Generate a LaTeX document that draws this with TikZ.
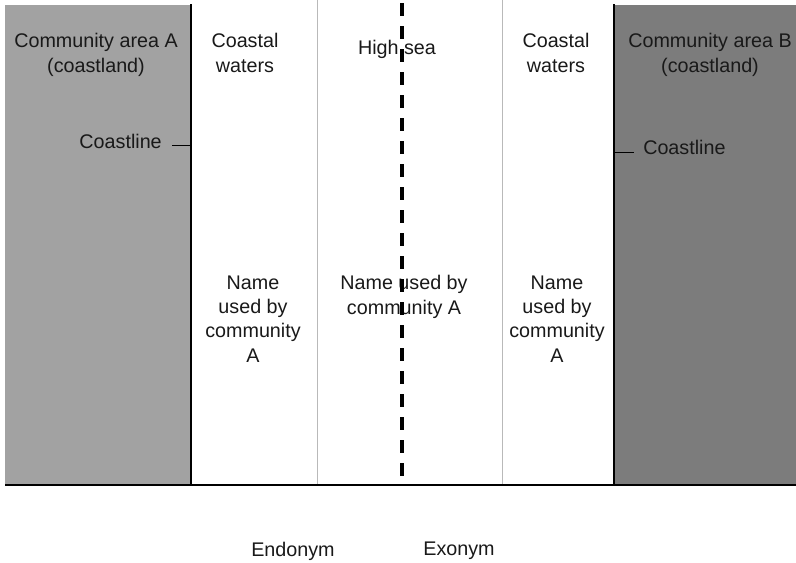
\documentclass[tikz,border=0pt]{standalone}
\usepackage{fontspec}
\setmainfont{Liberation Sans}
\definecolor{landA}{RGB}{162,162,162}
\definecolor{landB}{RGB}{124,124,124}
\definecolor{divider}{RGB}{185,185,185}
\definecolor{baseline}{RGB}{60,60,60}
\definecolor{ink}{RGB}{25,25,25}
\tikzset{
  lbl/.style={align=center, inner sep=0pt, text=ink,
    font=\fontsize{14.8}{18.2}\selectfont},
  coast/.style={line width=1.5pt, black},
  zone/.style={line width=0.75pt, divider},
  seaborder/.style={line width=3pt, black, dash pattern=on 9.75pt off 7.5pt},
  tick/.style={line width=0.6pt, black}
}
\begin{document}
\begin{tikzpicture}[x=0.75pt,y=-0.75pt]
\useasboundingbox (0,0) rectangle (796,562);

% land areas on both sides
\fill[landA] (5,5) rectangle (191,485);
\fill[landB] (614,5) rectangle (796,485);

% coastlines and zone limits
\draw[coast] (191,4) -- (191,485);
\draw[coast] (614,4) -- (614,485);
\draw[zone] (317,0) -- (317,485);
\draw[zone] (502,0) -- (502,485);
\draw[line width=1.5pt, baseline] (5,485) -- (796,485);

% zone headings
\node[lbl] (landAname) at (96,55) {Community area A\\(coastland)};
\node[lbl] (coastA) at (245,53) {Coastal\\waters};
\node[lbl] (highsea) at (397,49) {High sea};
\node[lbl] (coastB) at (556,53) {Coastal\\waters};
\node[lbl] (landBname) at (710,55) {Community area B\\(coastland)};

% coastline labels with their ticks
\node[lbl, anchor=east] (clA) at (162,141) {Coastline};
\coordinate (clAend) at (191,145);
\draw[tick] (clAend) -- ++(-19,0);
\node[lbl, anchor=west] (clB) at (643,147) {Coastline};
\coordinate (clBend) at (614,152);
\draw[tick] (clBend) -- ++(20,0);

% names used in each zone
\node[lbl] (nameA) at (253,319) {Name\\used by\\community\\A};
\node[lbl] (nameSea) at (404,297) {Name used by\\community A};
\node[lbl] (nameB) at (557,319) {Name\\used by\\community\\A};

% legend
\node[lbl] (endo) at (293,551) {Endonym};
\node[lbl] (exo) at (459,551) {Exonym};

% limit between endonym and exonym
\coordinate (limtop) at (402,3);
\coordinate (limbot) at (402,485);
\draw[seaborder] (limtop) -- (limbot);
\end{tikzpicture}
\end{document}
